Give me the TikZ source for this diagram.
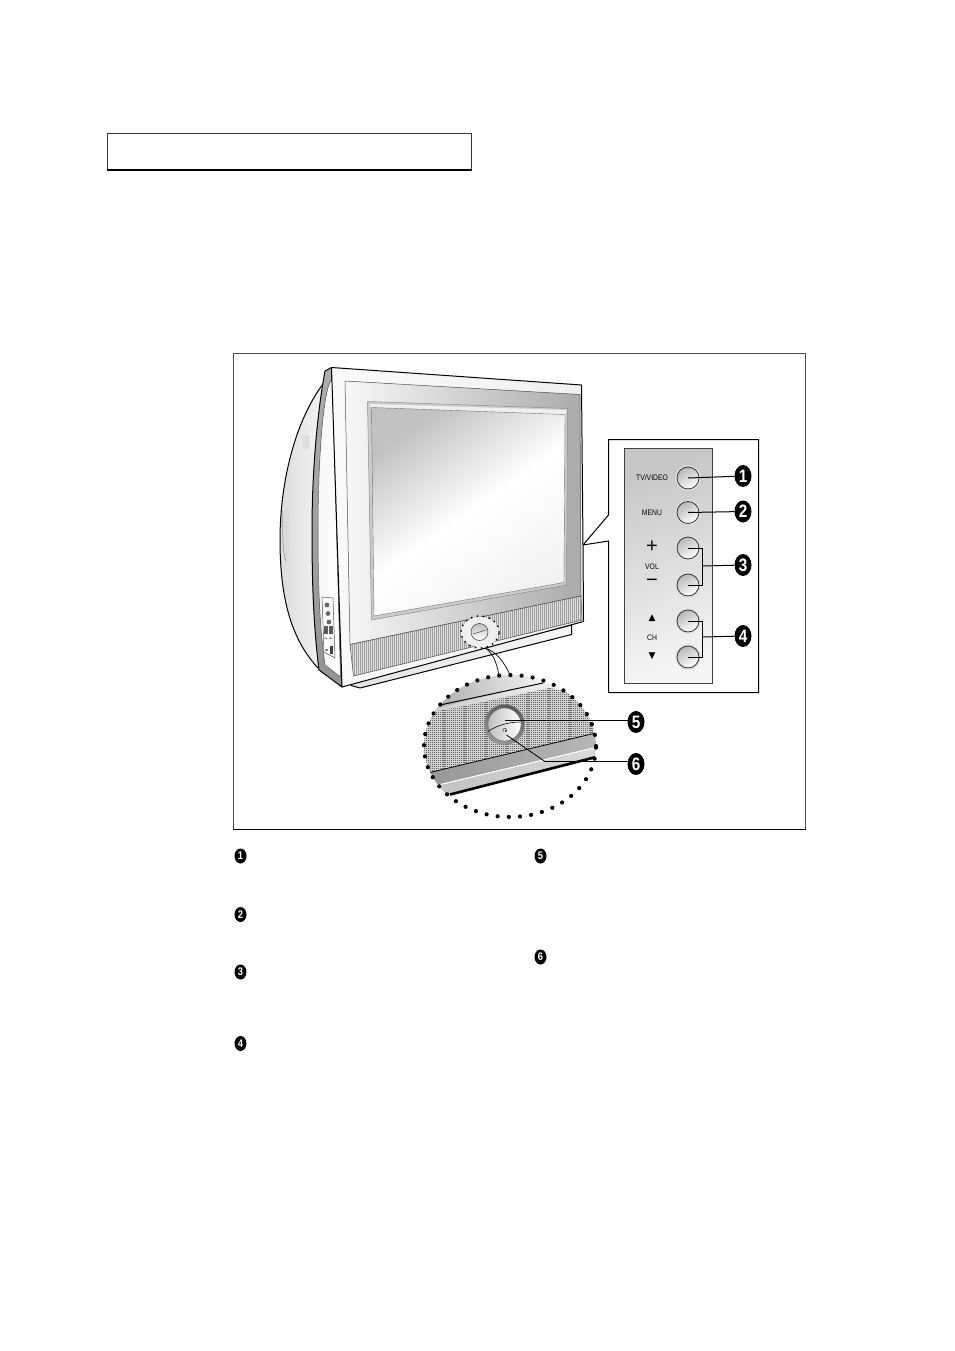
\documentclass[tikz,border=0pt]{standalone}
\usepackage{fontspec}
\setmainfont{Liberation Sans}
\newfontfamily\symfont{DejaVu Sans}
\usetikzlibrary{shapes.geometric}
\tikzset{
  every node/.style={inner sep=0pt,outer sep=0pt},
  panellabel/.style={font=\fontsize{8}{9}\selectfont,text=black},
  bigbadge/.style={ellipse,fill=black,text=white,minimum width=17pt,minimum height=22pt,font=\fontsize{18}{18}\selectfont\bfseries},
  smallbadge/.style={ellipse,fill=black,text=white,minimum width=12pt,minimum height=15pt,font=\fontsize{11}{11}\selectfont\bfseries},
  panelbtn/.style={circle,minimum size=22pt,draw=black!80,line width=.8pt,top color=black!28,bottom color=white,shading angle=30,preaction={draw=black!12,line width=3.5pt}},
  leader/.style={line width=1pt,black},
  outline/.style={draw=black,line width=1pt,line join=round},
  thin outline/.style={draw=black!70,line width=.5pt,line join=round},
  dotring/.style={draw=black,line cap=round,dash pattern=on 0pt off 11.2pt,line width=4.2pt},
  minidots/.style={draw=black,line cap=round,dash pattern=on 0pt off 6pt,line width=2pt},
}
\newcommand{\narrow}[2]{\scalebox{#1}[1]{#2}}
\begin{document}
\begin{tikzpicture}[x=1pt,y=-1pt]
\useasboundingbox (0,0) rectangle (954,1351);
\fill[white] (0,0) rectangle (954,1351);

% title box
\draw[black!80,line width=.7pt] (107,170) -- (107,133) -- (471,133) -- (471,170);
\draw[black,line width=1.6pt] (106.5,170) -- (471.5,170);

% figure frame
\draw[black!70,line width=.6pt] (233.5,829) -- (233.5,353.5) -- (805.5,353.5) -- (805.5,829);
\draw[black,line width=1.8pt] (233,829.5) -- (806,829.5);

% TV back body
\shade[left color=black!14,right color=white,outline]
  (323,384) .. controls (296,420) and (280,480) .. (280,540)
  .. controls (280,600) and (292,640) .. (318,668) -- (340,640) -- (335,385) -- cycle;
\fill[black!13,rounded corners=1.5pt] (302.5,435) rectangle (309.5,449);
\fill[black!14] (287,533) ellipse [x radius=3pt,y radius=27pt];
\draw[black!45,line width=.5pt] (283,510) .. controls (282,530) and (283,555) .. (286,561);

% side band
\shade[top color=black!32,bottom color=black!42,outline]
  (325,371) .. controls (316,420) and (312,480) .. (312,530)
  .. controls (312,590) and (314,630) .. (319,670) -- (342,687) -- (331.5,367.5) -- cycle;
\shade[left color=black!3,right color=white,thin outline]
  (330,382) .. controls (322,400) and (318,470) .. (318,530)
  .. controls (318,590) and (320,630) .. (325,665) -- (340.5,677) -- (332.5,385) .. controls (333,381) and (332,380) .. (330,382) -- cycle;

% side connector panel
\draw[black!70,fill=white,line width=.5pt] (322,597) -- (333,598) -- (335,658) -- (324,652) -- cycle;
\fill[black!60] (327,605) circle[radius=2.4pt] (328,613.5) circle[radius=2.4pt] (329,622) circle[radius=2.4pt];
\fill[black!65] (324,626) rectangle (333,634);
\fill[white] (328,626) rectangle (328.8,634);
\fill[black!50] (324.5,637.5) rectangle (327,639) (329,637.5) rectangle (331.5,639);
\fill[black!75] (329.5,646) rectangle (332.5,654);
\fill[black!45] (325,649) rectangle (328,651);

% base
\shade[left color=black!10,right color=black!4,outline] (571.5,625) -- (571.5,634.5) -- (360,688) -- (351,685.5) -- (351,680) -- cycle;

% front bezel
\shade[left color=black!2,right color=black!6,outline]
  (331.5,367.5) -- (581.5,385) -- (583,545) -- (583.5,621.5) -- (342,687) -- cycle;

% recess
\shade[left color=black!3,right color=black!33,thin outline]
  (345,381) -- (580,394.5) -- (581,596) -- (350,644.5) -- cycle;

% speaker strip
\begin{scope}
  \clip (350,644.5) -- (581,596) -- (582,620) -- (353.5,676) -- cycle;
  \fill[black!12] (340,590) rectangle (590,680);
  \foreach \sx in {350,352,...,582} \draw[black!38,line width=.6pt] (\sx,590) -- (\sx,680);
\end{scope}
\draw[black!70,line width=.5pt] (350,644.5) -- (581,596) -- (582,620) -- (353.5,676) -- cycle;

% screen
\fill[black!20,draw=black!45,line width=.5pt,line join=round] (367.5,401.5) -- (567.5,408.5) -- (566.5,585) -- (371.5,620) -- cycle;
\fill[black!6] (369,404) -- (567,410) -- (565,415) -- (372,408) -- cycle;
\shade[top color=black!24,bottom color=black!5,middle color=white,shading angle=35,draw=black!55,line width=.4pt]
  (371.5,407.5) -- (565,414.5) -- (564,582.5) -- (374,616) -- cycle;

% mini control area
\fill[black!6] (480,632) ellipse [x radius=19pt,y radius=15pt];
\draw[minidots] (480,632) ellipse [x radius=19pt,y radius=16pt];
\node[circle,minimum size=17pt,draw=black!70,line width=.6pt,top color=black!25,bottom color=white] (minibtn) at (479.5,632) {};
\coordinate (minijoin) at (485,648);
\draw[black!70,line width=.5pt] (473,634) -- (486,630);

% inset
\begin{scope}
  \clip (510,746) ellipse [x radius=86pt,y radius=71pt];
  \shade[left color=black!35,right color=white] (424,670) rectangle (560,712);
  \fill[white] (550,670) rectangle (600,700);
  \shade[left color=black!22,right color=white] (420,712) -- (543,683) -- (600,690) -- (600,700) -- (420,720) -- cycle;
  \begin{scope}
    \clip (415,718) -- (436,711.5) -- (550,688) -- (600,700) -- (600,732) -- (415,776) -- cycle;
    \fill[black!18] (415,680) rectangle (600,780);
    \foreach \ly in {680,682,...,780} \draw[black!60,line width=.9pt,dash pattern=on 1.2pt off .9pt] (415,\ly) -- (600,\ly);
  \end{scope}
  \shade[left color=black!42,right color=black!28] (415,776) -- (600,732) -- (600,746) -- (415,790) -- cycle;
  \shade[left color=black!25,right color=black!15] (415,791) -- (600,747) -- (600,756) -- (450,794) -- (415,803) -- cycle;
  \draw[black,line width=1pt] (440,705) -- (543,683);
  \draw[black,line width=.8pt] (415,776) -- (600,732);
  \draw[white,line width=.7pt] (415,790.5) -- (600,746.5);
  \draw[black,line width=2.6pt] (450,794.5) -- (600,756);
\end{scope}
\draw[dotring] (510,746) ellipse [x radius=86pt,y radius=71pt];
\coordinate (insetA) at (499,676);
\coordinate (insetB) at (510,675);
\draw[black,line width=.7pt] (minijoin) .. controls (492,652) and (497,662) .. (insetA);
\draw[black,line width=.7pt] (minijoin) .. controls (497,652) and (504,662) .. (insetB);

% inset button
\node[circle,minimum size=40pt,top color=black!65,bottom color=black!40,shading angle=-20,draw=black!50,line width=.5pt] (powerring) at (504.5,724.5) {};
\node[circle,minimum size=33pt,left color=black!25,right color=white,draw=black!60,line width=.4pt] (powerbtn) at (504.5,724.5) {};
\draw[black,line width=.6pt] (488,731.5) .. controls (497,725) and (510,722) .. (520,722);
\coordinate (powericon) at (505,733);
\draw[black!80,line width=.5pt] (503.4,731.6) arc[start angle=220,end angle=-40,radius=2pt];
\draw[black!80,line width=.5pt] (505,729.5) -- (505,732);
\coordinate (lead5a) at (505,720);
\coordinate (lead6a) at (506.5,735);
\coordinate (leadsix) at (545,761.5);

\node[bigbadge] (b5) at (636,722) {\narrow{.85}{5}};
\node[bigbadge] (b6) at (636,764) {\narrow{.85}{6}};
\draw[black,line width=.8pt] (lead5a) -- (b5.west |- lead5a);
\draw[black,line width=.8pt] (lead6a) -- (leadsix) -- (b6.west |- leadsix);

% callout box
\coordinate (tip) at (583,545);
\draw[black,line width=1pt,line join=miter] (tip) -- (608.5,515) -- (608.5,439.5) -- (758.5,439.5) -- (758.5,692.5) -- (608.5,692.5) -- (608.5,541) -- (tip);
\shade[left color=black!22,right color=black!4,draw=black!75,line width=.6pt,shading angle=20] (624.5,448.5) rectangle (712.5,683.5);

\node[panelbtn] (btn1) at (688,478) {};
\node[panelbtn] (btn2) at (688,512.5) {};
\node[panelbtn] (btn3) at (688,548) {};
\node[panelbtn] (btn4) at (688,585) {};
\node[panelbtn] (btn5) at (688,621) {};
\node[panelbtn] (btn6) at (688,657) {};

\node[panellabel] (ltv) at (652,478) {\narrow{.85}{TV/VIDEO}};
\node[panellabel] (lmenu) at (652,513) {\narrow{.85}{MENU}};
\node[font=\fontsize{20}{20}\selectfont,text=black] (lplus) at (652,547) {+};
\node[panellabel] (lvol) at (652,567) {\narrow{.85}{VOL}};
\node[font=\fontsize{20}{20}\selectfont,text=black] (lminus) at (652,583) {−};
\node[font=\symfont\fontsize{9}{9}\selectfont,text=black] (lup) at (652,618.5) {▲};
\node[panellabel] (lch) at (652,638) {\narrow{.85}{CH}};
\node[font=\symfont\fontsize{9}{9}\selectfont,text=black] (ldown) at (652,656.5) {▼};

\node[bigbadge] (b1) at (743,476) {\narrow{.85}{1}};
\node[bigbadge] (b2) at (743,511.5) {\narrow{.85}{2}};
\node[bigbadge] (b3) at (743,565) {\narrow{.85}{3}};
\node[bigbadge] (b4) at (743,636) {\narrow{.85}{4}};
\coordinate (j3) at (702,566);
\coordinate (j4) at (702,637);
\draw[leader] (btn1.center) -- (b1);
\draw[leader] (btn2.center) -- (b2);
\draw[leader] (btn3.center) -| (j3) |- (btn4.center);
\draw[leader] (j3) -- (b3);
\draw[leader] (btn5.center) -| (j4) |- (btn6.center);
\draw[leader] (j4) -- (b4);

% key badges
\node[smallbadge] (k1) at (240.5,856) {\narrow{.85}{1}};
\node[smallbadge] (k2) at (240.5,914.5) {\narrow{.85}{2}};
\node[smallbadge] (k3) at (240.5,972) {\narrow{.85}{3}};
\node[smallbadge] (k4) at (240.5,1043.5) {\narrow{.85}{4}};
\node[smallbadge] (k5) at (540.5,856) {\narrow{.85}{5}};
\node[smallbadge] (k6) at (540.5,957) {\narrow{.85}{6}};
\end{tikzpicture}
\end{document}
